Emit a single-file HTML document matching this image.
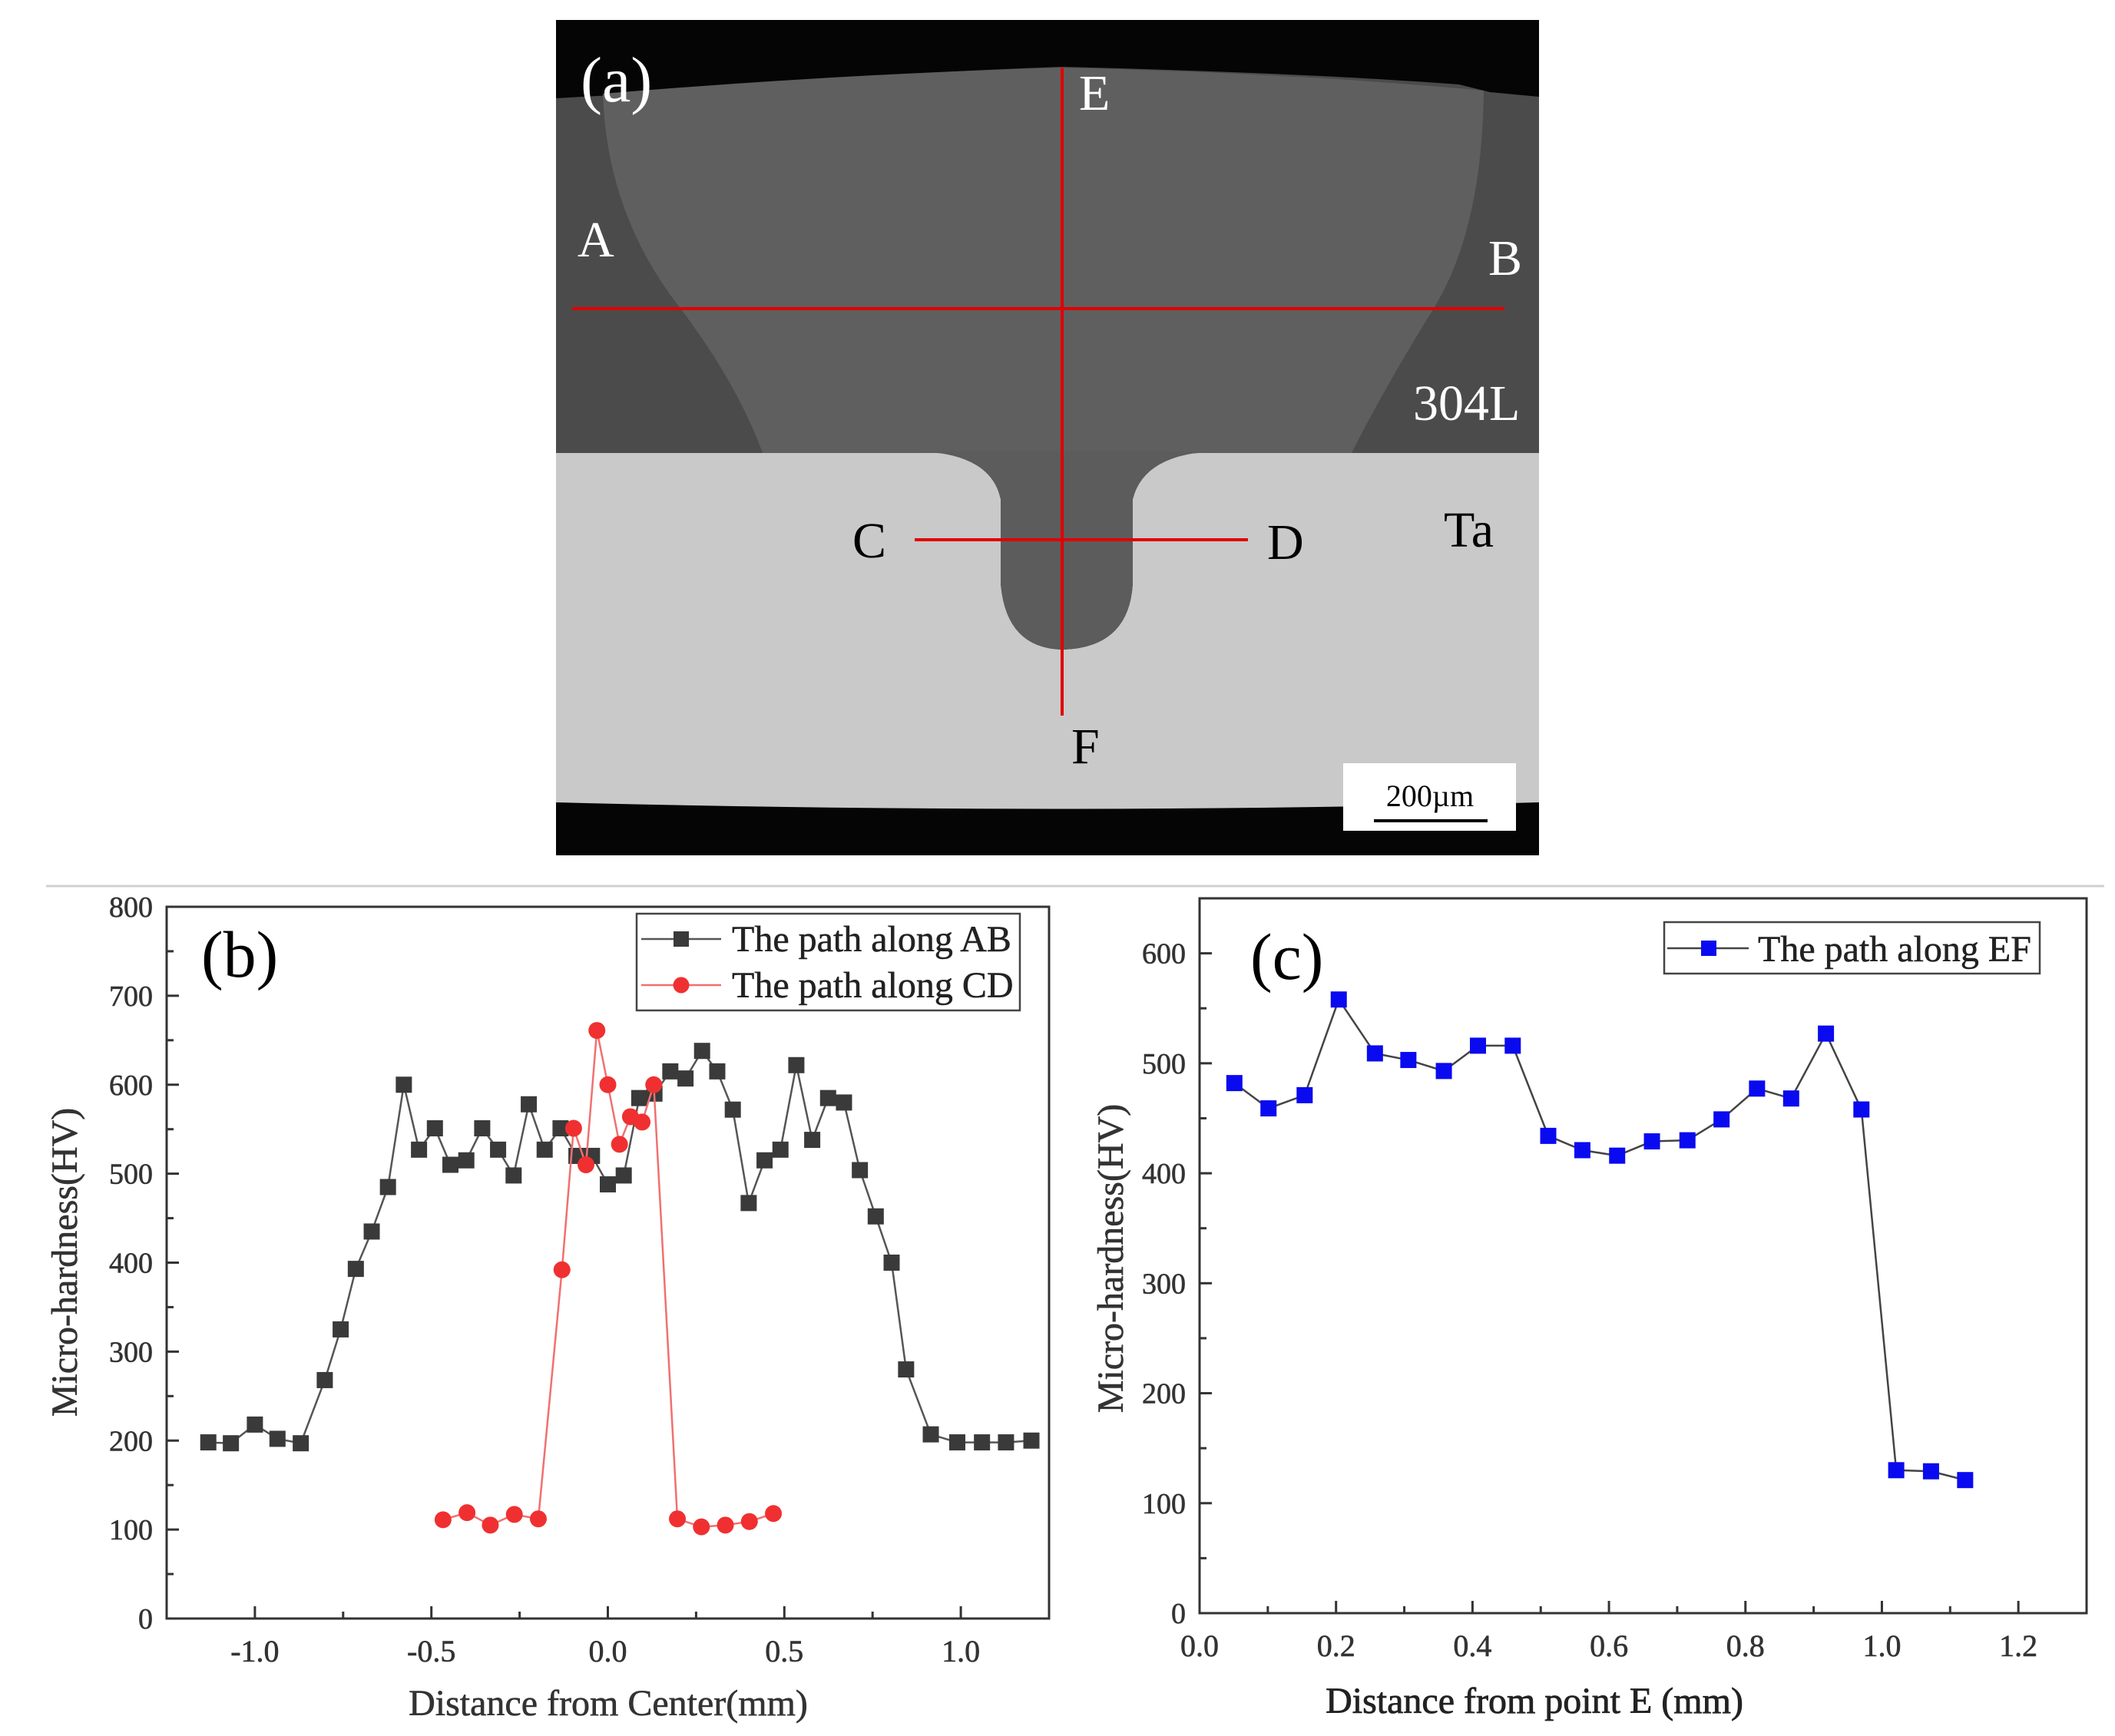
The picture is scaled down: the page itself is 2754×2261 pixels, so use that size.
<!DOCTYPE html>
<html><head><meta charset="utf-8"><style>
html,body{margin:0;padding:0;background:#fff}
svg{display:block}
text{font-family:"Liberation Serif",serif}
</style></head><body>
<svg id="fig" width="2754" height="2261" viewBox="0 0 2754 2261" xmlns="http://www.w3.org/2000/svg">
<g>
  <rect x="724" y="26" width="1280" height="1088" fill="#050505"/>
  <path d="M724,128 L900,118 Q1150,95 1383,87 Q1700,95 1900,110 L1940,120 L2004,126 L2004,590 L724,590 Z" fill="#4b4b4b"/>
  <path d="M785,122 Q1100,96 1383,88 Q1700,96 1932,118 Q1930,300 1866,403 Q1800,510 1760,590 L993,590 Q960,500 887,403 Q790,280 785,122 Z" fill="#5f5f5f"/>
  <path d="M724,590 L1220,590 Q1290,592 1303,650 L1303,760 Q1310,844 1383,846 Q1470,844 1475,760 L1475,650 Q1490,592 1560,590 L2004,590 L2004,1045 Q1380,1062 724,1045 Z" fill="#c9c9c9"/>
  <path d="M1200,588 Q1290,592 1303,650 L1303,760 Q1310,844 1383,846 Q1470,844 1475,760 L1475,650 Q1490,592 1580,588 Z" fill="#5c5c5c"/>
  <line x1="1383" y1="88" x2="1383" y2="932" stroke="#e00000" stroke-width="4"/>
  <line x1="745" y1="402" x2="1959" y2="402" stroke="#e00000" stroke-width="4"/>
  <line x1="1191" y1="703" x2="1625" y2="703" stroke="#e00000" stroke-width="4"/>
  <text x="756" y="132" font-size="84" fill="#fff">(a)</text>
  <text x="1405" y="143" font-size="66" fill="#fff">E</text>
  <text x="752" y="334" font-size="66" fill="#fff">A</text>
  <text x="1938" y="358" font-size="66" fill="#fff">B</text>
  <text x="1840" y="547" font-size="66" fill="#fff">304L</text>
  <text x="1880" y="712" font-size="66" fill="#000">Ta</text>
  <text x="1110" y="726" font-size="66" fill="#000">C</text>
  <text x="1650" y="728" font-size="66" fill="#000">D</text>
  <text x="1395" y="994" font-size="66" fill="#000">F</text>
  <rect x="1749" y="994" width="225" height="88" fill="#fff"/>
  <text x="1862" y="1050" font-size="40" text-anchor="middle">200µm</text>
  <line x1="1789" y1="1069" x2="1937" y2="1069" stroke="#000" stroke-width="4"/>
</g>
<line x1="60" y1="1154" x2="2740" y2="1154" stroke="#d0d0d0" stroke-width="3"/>
<g id="chartB"></g>
<g id="chartC"></g>
</svg>
<script>
const abX=[-1.132,-1.068,-1.0,-0.936,-0.870,-0.802,-0.757,-0.714,-0.669,-0.623,-0.578,-0.535,-0.490,-0.446,-0.401,-0.356,-0.311,-0.267,-0.224,-0.179,-0.134,-0.089,-0.045,0,0.045,0.089,0.132,0.177,0.220,0.267,0.310,0.354,0.399,0.444,0.489,0.534,0.579,0.624,0.669,0.714,0.759,0.804,0.845,0.915,0.990,1.060,1.128,1.200];
const abY=[198,197,218,202,197,268,325,393,435,485,600,527,551,510,515,551,527,498,578,527,551,520,520,488,498,585,590,615,607,638,615,572,467,515,527,622,538,585,580,504,452,400,280,207,198,198,198,200];
const cdX=[-0.467,-0.399,-0.333,-0.265,-0.197,-0.130,-0.097,-0.062,-0.031,0,0.033,0.064,0.097,0.130,0.197,0.265,0.333,0.401,0.469];
const cdY=[111,119,105,117,112,392,551,510,661,600,533,564,558,600,112,103,105,109,118];
const bXTicks=[-1.0,-0.5,0.0,0.5,1.0];
const bXLabels=["-1.0","-0.5","0.0","0.5","1.0"];
const bYTicks=[0,100,200,300,400,500,600,700,800];
const efX=[0.051,0.101,0.154,0.204,0.257,0.306,0.358,0.408,0.459,0.511,0.561,0.612,0.663,0.715,0.765,0.817,0.867,0.918,0.970,1.021,1.072,1.122];
const efY=[482,459,471,558,509,503,493,516,516,434,421,416,429,430,449,477,468,527,458,130,129,121];
const cXTicks=[0.0,0.2,0.4,0.6,0.8,1.0,1.2];
const cXLabels=["0.0","0.2","0.4","0.6","0.8","1.0","1.2"];
const cYTicks=[0,100,200,300,400,500,600];

const NS="http://www.w3.org/2000/svg";
function mk(parent,tag,attrs,txt){const e=document.createElementNS(NS,tag);for(const k in attrs)e.setAttribute(k,attrs[k]);if(txt!==undefined)e.textContent=txt;parent.appendChild(e);return e;}

function axes(g,L,R,T,B,xs,ys,xTicks,xLabels,xMinor,yTicks,yMinor){
  const box=mk(g,'rect',{x:L,y:T,width:R-L,height:B-T,fill:'none',stroke:'#333','stroke-width':3});
  
  
  xTicks.forEach((v,i)=>{
    const t=mk(g,'line',{x1:xs(v),x2:xs(v),y1:B,y2:B-16,stroke:'#333','stroke-width':3});
    
    
    const l=mk(g,'text',{x:xs(v),y:B+56,'font-size':40,'text-anchor':'middle',fill:'#333',stroke:'#333','stroke-width':0.6},xLabels[i]);
    
    
  });
  xMinor.forEach(v=>{
    const t=mk(g,'line',{x1:xs(v),x2:xs(v),y1:B,y2:B-9,stroke:'#333','stroke-width':3});
    
    
  });
  yTicks.forEach(v=>{
    const t=mk(g,'line',{x1:L,x2:L+16,y1:ys(v),y2:ys(v),stroke:'#333','stroke-width':3});
    
    
    const l=mk(g,'text',{x:L-18,y:ys(v)+13,'font-size':38,'text-anchor':'end',fill:'#333',stroke:'#333','stroke-width':0.6},String(v));
    
    
  });
  yMinor.forEach(v=>{
    const t=mk(g,'line',{x1:L,x2:L+9,y1:ys(v),y2:ys(v),stroke:'#333','stroke-width':3});
    
    
  });
}
function series(g,xs,ys,X,Y,color,lineColor,shape,size,name){
  const pts=X.map((x,i)=>xs(x)+','+ys(Y[i])).join(' ');
  const pl=mk(g,'polyline',{points:pts,fill:'none',stroke:lineColor,'stroke-width':2.5});
  
  
  X.forEach((x,i)=>{
    let m;
    if(shape==='sq') m=mk(g,'rect',{x:xs(x)-size/2,y:ys(Y[i])-size/2,width:size,height:size,fill:color});
    else m=mk(g,'circle',{cx:xs(x),cy:ys(Y[i]),r:size/2,fill:color});
    
    
  });
}

// Chart b
(function(){
  const g=document.getElementById('chartB');
  const L=217,R=1366,T=1181,B=2108;
  const xs=v=>L+(v+1.25)/2.5*(R-L);
  const ys=v=>B-v/800*(B-T);
  const xMinor=[-1.25,-0.75,-0.25,0.25,0.75,1.25];
  const yMinor=[50,150,250,350,450,550,650,750];
  axes(g,L,R,T,B,xs,ys,bXTicks,bXLabels,xMinor,bYTicks,yMinor);
  series(g,xs,ys,abX,abY,'#3a3a3a','#555','sq',21,'ab-series');
  series(g,xs,ys,cdX,cdY,'#f03030','#f07070','ci',22,'cd-series');
  const pl=mk(g,'text',{x:262,y:1272,'font-size':86},'(b)');
  
  
  const xt=mk(g,'text',{x:792,y:2234,'font-size':48,'text-anchor':'middle',fill:'#333',stroke:'#333','stroke-width':0.6},'Distance from Center(mm)');
  
  
  const yt=mk(g,'text',{x:0,y:0,'font-size':48,'text-anchor':'middle',fill:'#333',stroke:'#333','stroke-width':0.6,transform:'translate(100,1644) rotate(-90)'},'Micro-hardness(HV)');
  
  
  const lb=mk(g,'rect',{x:829,y:1190,width:499,height:126,fill:'#fff',stroke:'#444','stroke-width':2.5});
  
  
  const l1=mk(g,'line',{x1:835,x2:939,y1:1223,y2:1223,stroke:'#555','stroke-width':2.5});
  
  
  const m1=mk(g,'rect',{x:877,y:1213,width:20,height:20,fill:'#3a3a3a'});
  
  
  const t1=mk(g,'text',{x:953,y:1239,'font-size':48,fill:'#222',stroke:'#222','stroke-width':0.5},'The path along AB');
  
  
  const l2=mk(g,'line',{x1:835,x2:939,y1:1283,y2:1283,stroke:'#f07070','stroke-width':2.5});
  
  
  const m2=mk(g,'circle',{cx:887,cy:1283,r:10.5,fill:'#f03030'});
  
  
  const t2=mk(g,'text',{x:953,y:1299,'font-size':48,fill:'#222',stroke:'#222','stroke-width':0.5},'The path along CD');
  
  
})();

// Chart c
(function(){
  const g=document.getElementById('chartC');
  const L=1562,R=2717,T=1170,B=2101;
  const xs=v=>L+v/1.3*(R-L);
  const ys=v=>B-v/650*(B-T);
  const xMinor=[0.1,0.3,0.5,0.7,0.9,1.1];
  const yMinor=[50,150,250,350,450,550];
  axes(g,L,R,T,B,xs,ys,cXTicks,cXLabels,xMinor,cYTicks,yMinor);
  series(g,xs,ys,efX,efY,'#0a0af0','#444','sq',21,'ef-series');
  const pl=mk(g,'text',{x:1628,y:1275,'font-size':86},'(c)');
  
  
  const xt=mk(g,'text',{x:1998,y:2231,'font-size':48,'text-anchor':'middle',fill:'#222',stroke:'#222','stroke-width':0.8},'Distance from point E (mm)');
  
  
  const yt=mk(g,'text',{x:0,y:0,'font-size':48,'text-anchor':'middle',fill:'#333',stroke:'#333','stroke-width':0.6,transform:'translate(1462,1639) rotate(-90)'},'Micro-hardness(HV)');
  
  
  const lb=mk(g,'rect',{x:2167,y:1201,width:489,height:67,fill:'#fff',stroke:'#444','stroke-width':2.5});
  
  
  const l1=mk(g,'line',{x1:2171,x2:2277,y1:1235,y2:1235,stroke:'#444','stroke-width':2.5});
  
  
  const m1=mk(g,'rect',{x:2215,y:1225,width:20,height:20,fill:'#0a0af0'});
  
  
  const t1=mk(g,'text',{x:2289,y:1252,'font-size':48,fill:'#222',stroke:'#222','stroke-width':0.5},'The path along EF');
  
  
})();
</script>
</body></html>
